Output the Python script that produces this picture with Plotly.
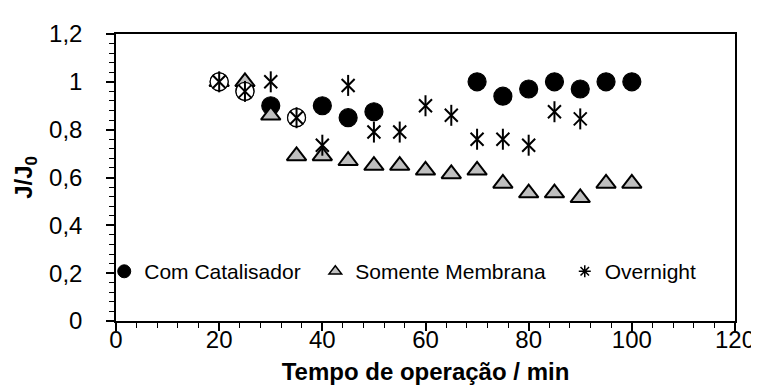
import plotly.graph_objects as go

# ---- data ----
tempo_cat = [20, 25, 30, 35, 40, 45, 50, 70, 75, 80, 85, 90, 95, 100]
j_cat = [1.0, 0.96, 0.9, 0.85, 0.9, 0.85, 0.875, 1.0, 0.94, 0.97, 1.0, 0.97, 1.0, 1.0]
cat_fill = ["white", "white", "black", "white", "black", "black", "black",
            "black", "black", "black", "black", "black", "black", "black"]

tempo_mem = [20, 25, 30, 35, 40, 45, 50, 55, 60, 65, 70, 75, 80, 85, 90, 95, 100]
j_mem = [1.0, 1.0, 0.86, 0.69, 0.69, 0.67, 0.65, 0.65, 0.63, 0.615, 0.63,
         0.575, 0.535, 0.535, 0.515, 0.575, 0.575]

tempo_ov = [20, 25, 30, 35, 40, 45, 50, 55, 60, 65, 70, 75, 80, 85, 90]
j_ov = [1.0, 0.96, 1.0, 0.85, 0.735, 0.985, 0.79, 0.79, 0.9, 0.86, 0.76,
        0.76, 0.735, 0.875, 0.845]

names = ["Com Catalisador", "Somente Membrana", "Overnight"]
x_ticks = [0, 20, 40, 60, 80, 100, 120]
y_ticks = [0, 0.2, 0.4, 0.6, 0.8, 1.0, 1.2]
y_tick_text = ["0", "0,2", "0,4", "0,6", "0,8", "1", "1,2"]

FONT = "Liberation Sans"

fig = go.Figure()

# circles (Com Catalisador)
fig.add_trace(go.Scatter(
    x=tempo_cat, y=j_cat, mode="markers", showlegend=False,
    marker=dict(symbol="circle", size=18, color=cat_fill,
                line=dict(color="black", width=1.2))))

# triangles (Somente Membrana)
fig.add_trace(go.Scatter(
    x=tempo_mem, y=j_mem, mode="markers", showlegend=False,
    marker=dict(symbol="triangle-up", size=17, color="#bfbfbf",
                line=dict(color="black", width=2))))

# white circles drawn on top where they cover other markers
idx_w = [i for i, c in enumerate(cat_fill) if c == "white"]
fig.add_trace(go.Scatter(
    x=[tempo_cat[i] for i in idx_w], y=[j_cat[i] for i in idx_w],
    mode="markers", showlegend=False,
    marker=dict(symbol="circle", size=18, color="white",
                line=dict(color="black", width=1.2))))

# asterisks (Overnight): X + vertical bar
fig.add_trace(go.Scatter(
    x=tempo_ov, y=j_ov, mode="markers", showlegend=False,
    marker=dict(symbol="x-thin-open", size=13, color="black",
                line=dict(color="black", width=2))))
fig.add_trace(go.Scatter(
    x=tempo_ov, y=j_ov, mode="markers", showlegend=False,
    marker=dict(symbol="line-ns-open", size=15, color="black",
                line=dict(color="black", width=2))))

# legend entries (one legend per entry, laid out in a row)
fig.add_trace(go.Scatter(x=[None], y=[None], mode="markers", name=names[0],
                         legend="legend",
                         marker=dict(symbol="circle", size=13, color="black",
                                     line=dict(color="black", width=1))))
fig.add_trace(go.Scatter(x=[None], y=[None], mode="markers", name=names[1],
                         legend="legend2",
                         marker=dict(symbol="triangle-up", size=11, color="#bfbfbf",
                                     line=dict(color="black", width=1.5))))
fig.add_trace(go.Scatter(x=[None], y=[None], mode="markers", name=names[2],
                         legend="legend3",
                         marker=dict(symbol="asterisk-open", size=10, color="black",
                                     line=dict(color="black", width=1.5))))

leg_common = dict(orientation="h", y=0.172, xanchor="left", yanchor="middle",
                  font=dict(size=21, family=FONT), bgcolor="rgba(0,0,0,0)",
                  itemwidth=30)

fig.update_layout(
    width=759, height=392,
    margin=dict(l=108, r=23, t=21, b=79),
    plot_bgcolor="white", paper_bgcolor="white",
    font=dict(family=FONT, size=24, color="black"),
    showlegend=True,
    legend=dict(x=-0.019, **leg_common),
    legend2=dict(x=0.322, **leg_common),
    legend3=dict(x=0.725, **leg_common),
    xaxis=dict(range=[0, 120], tickvals=x_ticks, showgrid=False, zeroline=False,
               showline=True, linecolor="black", linewidth=1.5, mirror=True,
               ticks="outside", ticklen=8, tickwidth=1.5, tickcolor="black",
               ticklabelstandoff=-12,
               tickfont=dict(size=24, family=FONT),
               minor=dict(dtick=4, ticks="outside", ticklen=5, tickwidth=1.2,
                          tickcolor="black", showgrid=False),
               title=dict(text="<b>Tempo de operação / min</b>",
                          font=dict(size=24, family=FONT), standoff=12)),
    yaxis=dict(range=[0, 1.2], tickvals=y_ticks, ticktext=y_tick_text,
               showgrid=False, zeroline=False,
               showline=True, linecolor="black", linewidth=1.5, mirror=True,
               ticks="outside", ticklen=8, tickwidth=1.5, tickcolor="black",
               ticklabelstandoff=19,
               tickfont=dict(size=24, family=FONT),
               minor=dict(dtick=0.04, ticks="outside", ticklen=5, tickwidth=1.2,
                          tickcolor="black", showgrid=False),
               title=dict(text="<b>J/J<sub>0</sub></b>",
                          font=dict(size=24, family=FONT), standoff=10)),
)

fig.write_html("out.html")
